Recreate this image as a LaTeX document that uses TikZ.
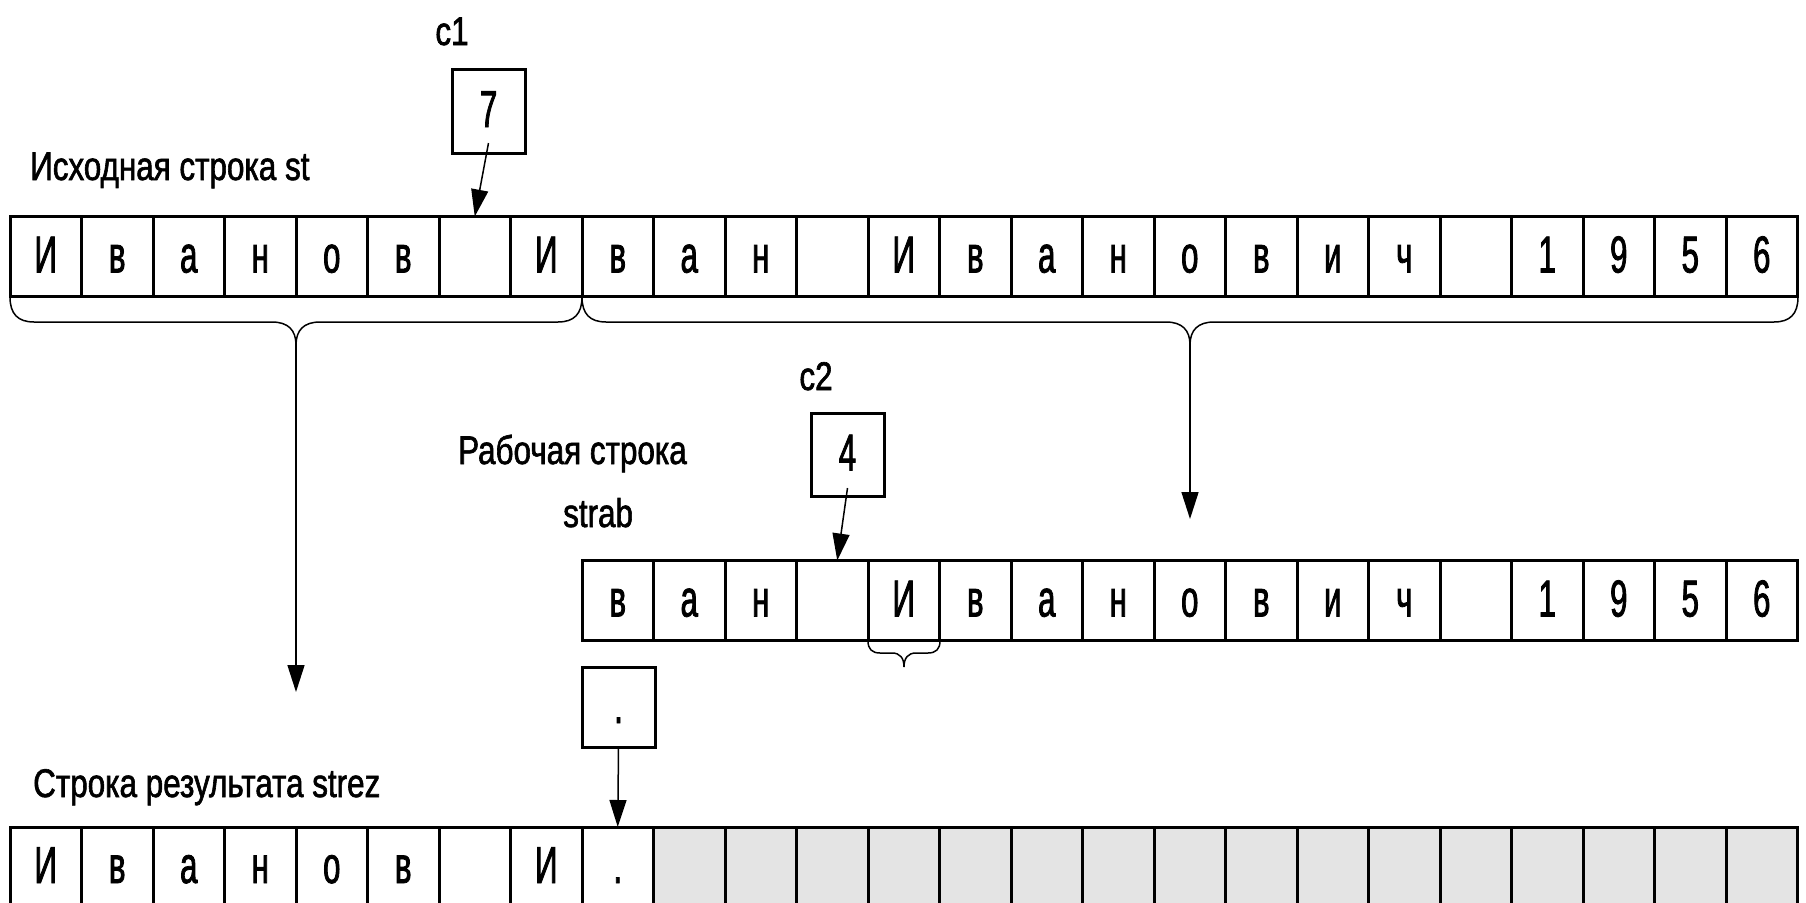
\documentclass[tikz,border=0pt]{standalone}
\usepackage{fontspec}
\setmainfont[FakeStretch=0.785,FakeBold=1.5]{Liberation Sans}
\newfontfamily\cellfont[FakeStretch=0.6,FakeBold=1.5]{Liberation Sans}
\usetikzlibrary{arrows.meta}
\definecolor{cellgray}{RGB}{228,228,228}
\tikzset{
  cell/.style={draw, line width=3pt, minimum width=71.5pt, minimum height=80pt,
    inner sep=0pt, outer sep=0pt, font=\cellfont\fontsize{52}{60}\selectfont,
    text height=32pt, text depth=0pt},
  graycell/.style={cell, fill=cellgray},
  ptrbox/.style={cell, fill=white, minimum width=73pt, minimum height=83pt},
  lbl/.style={font=\fontsize{40}{48}\selectfont, inner sep=0pt, anchor=base west},
  conn/.style={line width=1.5pt, -{Triangle[length=27pt,width=17pt]}},
  bracepath/.style={line width=1.5pt},
}
\begin{document}
\begin{tikzpicture}[x=1pt,y=-1pt]
\useasboundingbox (0,0) rectangle (1806,902);
\fill[white] (0,0) rectangle (1806,902);
\begin{scope}
\clip (0,0) rectangle (1806,902);
% top row
\foreach \c [count=\i] in {И,в,а,н,о,в,{},И,в,а,н,{},И,в,а,н,о,в,и,ч,{},1,9,5,6}
  \node[cell] (t\i) at ({10+(\i-0.5)*71.5},256.5) {\c};
% middle row
\foreach \c [count=\i] in {в,а,н,{},И,в,а,н,о,в,и,ч,{},1,9,5,6}
  \node[cell] (m\i) at ({582+(\i-0.5)*71.5},600.5) {\c};
% bottom row
\foreach \c [count=\i] in {И,в,а,н,о,в,{},И,.}
  \node[cell] (r\i) at ({10+(\i-0.5)*71.5},867) {\c};
\foreach \i in {10,...,25}
  \node[graycell] (r\i) at ({10+(\i-0.5)*71.5},867) {};
\end{scope}

% labels
\node[lbl] (lst) at (30,180) {Исходная строка st};
\node[lbl] (lrab1) at (458,464) {Рабочая строка};
\node[lbl] (lrab2) at (563,527) {strab};
\node[lbl] (lrez) at (33,797) {Строка результата strez};
\node[lbl, anchor=base] (lc1) at (452,45) {c1};
\node[lbl, anchor=base] (lc2) at (816,390) {c2};

% pointer boxes
\node[ptrbox, minimum height=84pt] (p7) at (488.5,111) {7};
\node[ptrbox] (p4) at (847.5,454.5) {4};
\node[ptrbox, minimum height=80pt] (pd) at (618.5,707) {.};

% braces
\coordinate (b1) at (296,345);
\coordinate (b2) at (1190,345);
\coordinate (b3) at (904,667);
\draw[bracepath] (10,297) .. controls (10,314) and (18,322) .. (34,322) -- (272,322)
  .. controls (288,322) and (296,330) .. (b1)
  .. controls (296,330) and (304,322) .. (320,322) -- (558,322)
  .. controls (574,322) and (582,314) .. (582,297);
\draw[bracepath] (582,297) .. controls (582,314) and (590,322) .. (606,322) -- (1166,322)
  .. controls (1182,322) and (1190,330) .. (b2)
  .. controls (1190,330) and (1198,322) .. (1214,322) -- (1774,322)
  .. controls (1790,322) and (1798,314) .. (1798,297);
\draw[bracepath] (868,641) .. controls (868,649) and (872,653) .. (880,653) -- (892,653)
  .. controls (900,653) and (904,658) .. (b3)
  .. controls (904,658) and (908,653) .. (916,653) -- (928,653)
  .. controls (936,653) and (940,649) .. (940,641);

% connectors
\coordinate (e1) at (296,692);
\coordinate (e2) at (1190,519);
\draw[conn] (b1) -- (e1);
\draw[conn] (b2) -- (e2);
\draw[conn] ([yshift=10pt]p7.south) -- (t7.north);
\draw[conn] ([yshift=8pt]p4.south) -- ([xshift=5pt]m4.north);
\draw[conn] (pd.south) -- (r9.north);
\end{tikzpicture}
\end{document}
